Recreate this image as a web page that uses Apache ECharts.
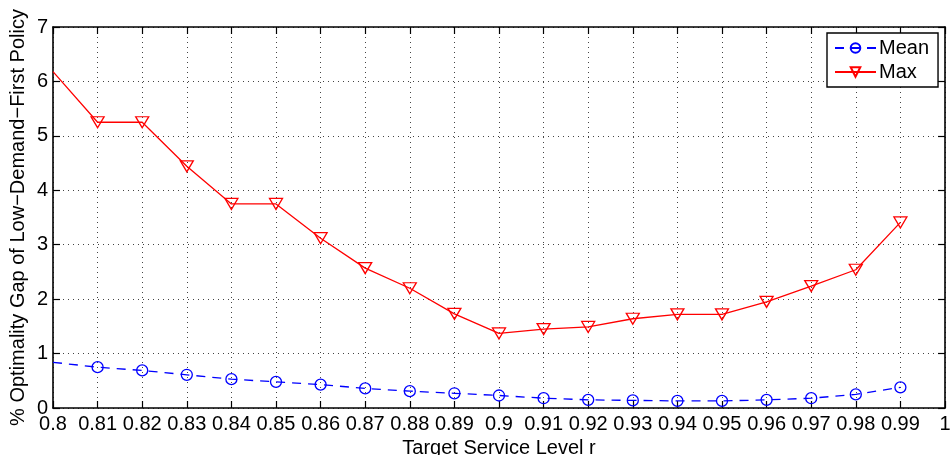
<!DOCTYPE html>
<html style="height: 100%">
<head>
    <meta charset="utf-8">
    <title>Optimality Gap</title>
</head>
<body style="height: 100%; margin: 0; background: #fff">
<div id="container" style="width: 951px; height: 455px"></div>
<script type="text/javascript" src="https://cdn.jsdelivr.net/npm/echarts@6/dist/echarts.min.js"></script>
<script type="text/javascript">
    // x tick labels (target service level r)
    var serviceLevels = ['0.8', '0.81', '0.82', '0.83', '0.84', '0.85', '0.86', '0.87', '0.88', '0.89',
        '0.9', '0.91', '0.92', '0.93', '0.94', '0.95', '0.96', '0.97', '0.98', '0.99', '1'];
    // mean gap (%)
    var meanGap = [0.84, 0.75, 0.69, 0.61, 0.53, 0.48, 0.43, 0.36, 0.31, 0.27,
        0.23, 0.18, 0.15, 0.14, 0.13, 0.13, 0.15, 0.18, 0.25, 0.38];
    // max gap (%)
    var maxGap = [6.18, 5.25, 5.25, 4.44, 3.75, 3.75, 3.12, 2.57, 2.20, 1.73,
        1.37, 1.45, 1.49, 1.64, 1.72, 1.72, 1.95, 2.24, 2.54, 3.41];

    var FONT = "'Liberation Sans', Arial, sans-serif";

    // the first point sits on the left edge, its marker is cut off
    function toData(arr) {
        return arr.map(function (v, i) {
            return i === 0 ? { value: v, symbol: 'none' } : v;
        });
    }

    var dom = document.getElementById('container');
    var myChart = echarts.init(dom, null, { renderer: 'canvas' });

    var gridLine = {
        show: true,
        lineStyle: { color: '#444', width: 1, type: [1, 4] }
    };
    var frame = { show: true, onZero: false, lineStyle: { color: '#000', width: 1.6 } };
    var tick = { show: true, inside: true, length: 7, lineStyle: { color: '#000', width: 1.2 } };

    var option = {
        backgroundColor: '#fff',
        animation: false,
        textStyle: { fontFamily: FONT },
        grid: { left: 53, right: 6, top: 27, bottom: 47, containLabel: false, outerBoundsMode: 'none' },
        legend: {
            left: 827,
            top: 33,
            orient: 'vertical',
            padding: [5, 9, 5, 7],
            itemGap: 4,
            itemWidth: 41,
            itemHeight: 12,
            borderColor: '#000',
            borderWidth: 1.4,
            backgroundColor: '#fff',
            textStyle: { fontFamily: FONT, fontSize: 20, color: '#000', padding: [0, 0, 0, -2] },
            data: ['Mean', 'Max']
        },
        xAxis: [
            {
                type: 'category',
                data: serviceLevels,
                boundaryGap: false,
                name: 'Target Service Level r',
                nameLocation: 'middle',
                nameMoveOverlap: false,
                nameGap: 30,
                nameTextStyle: { fontFamily: FONT, fontSize: 20, color: '#000' },
                axisLine: frame,
                axisTick: Object.assign({ interval: 0 }, tick),
                axisLabel: { interval: 0, fontFamily: FONT, fontSize: 20, color: '#000', margin: 6 },
                splitLine: Object.assign({ interval: 0 }, gridLine)
            },
            {
                type: 'category',
                data: serviceLevels,
                boundaryGap: false,
                position: 'top',
                axisLine: frame,
                axisTick: Object.assign({ interval: 0 }, tick),
                axisLabel: { show: false },
                splitLine: { show: false }
            }
        ],
        yAxis: [
            {
                type: 'value',
                min: 0,
                max: 7,
                interval: 1,
                name: '% Optimality Gap of Low\u2212Demand\u2212First Policy',
                nameLocation: 'middle',
                nameMoveOverlap: false,
                nameGap: 25,
                nameTextStyle: { fontFamily: FONT, fontSize: 20, color: '#000' },
                axisLine: frame,
                axisTick: tick,
                axisLabel: { fontFamily: FONT, fontSize: 20, color: '#000', margin: 5 },
                splitLine: gridLine
            },
            {
                type: 'value',
                min: 0,
                max: 7,
                interval: 1,
                position: 'right',
                axisLine: frame,
                axisTick: tick,
                axisLabel: { show: false },
                splitLine: { show: false }
            }
        ],
        series: [
            {
                name: 'Mean',
                type: 'line',
                data: toData(meanGap),
                symbol: 'circle',
                symbolSize: 11,
                lineStyle: { color: '#0000ff', width: 1.3, type: [9, 7] },
                itemStyle: { color: 'transparent', borderColor: '#0000ff', borderWidth: 1.3 },
                z: 3
            },
            {
                name: 'Max',
                type: 'line',
                data: toData(maxGap),
                symbol: 'triangle',
                symbolRotate: 180,
                symbolSize: [13, 11],
                lineStyle: { color: '#ff0000', width: 1.3 },
                itemStyle: { color: 'transparent', borderColor: '#ff0000', borderWidth: 1.3 },
                z: 3
            }
        ]
    };

    myChart.setOption(option);
    window.addEventListener('resize', myChart.resize);
</script>
</body>
</html>
